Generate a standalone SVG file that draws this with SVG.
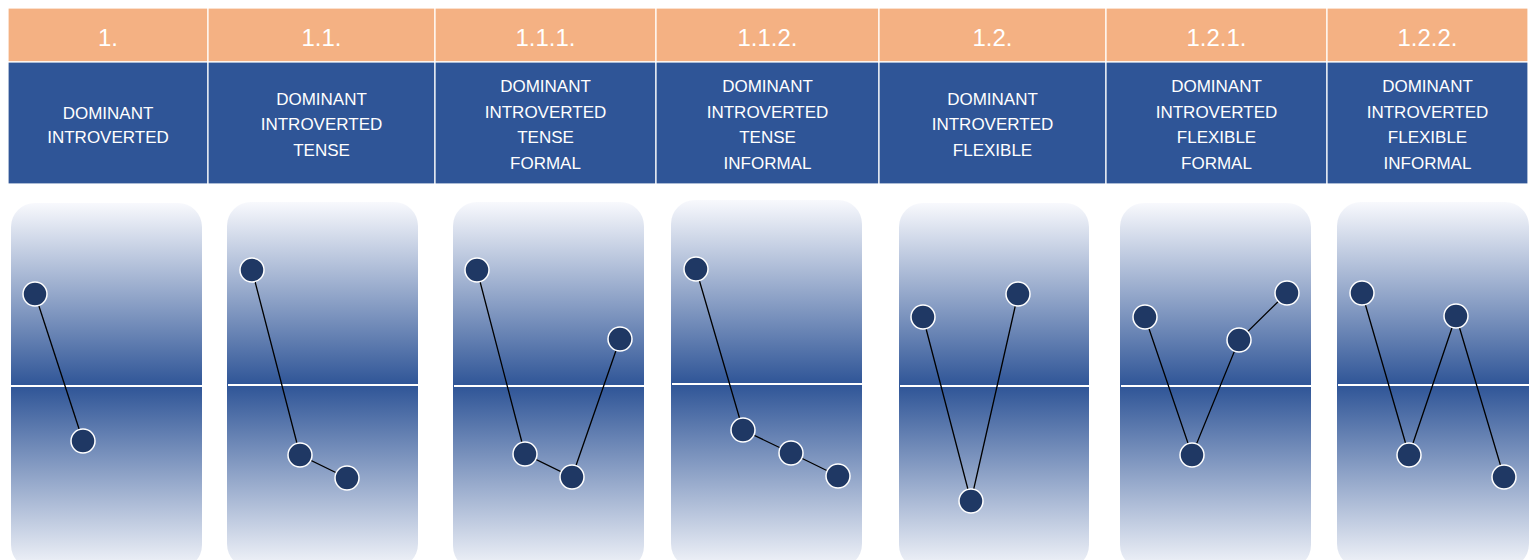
<svg xmlns="http://www.w3.org/2000/svg" width="1529" height="560" viewBox="0 0 1529 560">
<defs>
<linearGradient id="pg" x1="0" y1="0" x2="0" y2="1">
<stop offset="0" stop-color="#f8f9fd"/>
<stop offset="0.5" stop-color="#2F5597"/>
<stop offset="1" stop-color="#f3f5fa"/>
</linearGradient>
<style>
.num{fill:#F4B183;stroke:#ffffff;stroke-width:1.2}
.lab{fill:#2F5597;stroke:#ffffff;stroke-width:1.2}
.nt{font-family:"Liberation Sans",Arial,sans-serif;font-size:24px;fill:#ffffff;text-anchor:middle}
.lt{font-family:"Liberation Sans",Arial,sans-serif;font-size:17px;fill:#ffffff;text-anchor:middle}
.panel{fill:url(#pg)}
.mid{stroke:#ffffff;stroke-width:2}
.pt{fill:#1F3864;stroke:#ffffff;stroke-width:1.5}
.ln{fill:none;stroke:#000000;stroke-width:1.3}
</style>
</defs>
<rect width="1529" height="560" fill="#ffffff"/>

<g id="header">
<g id="col1">
<rect class="num" x="8" y="8" width="200" height="54"/>
<rect class="lab" x="8" y="62" width="200" height="122"/>
<text class="nt" x="108" y="46">1.</text>
<text class="lt" x="108" y="119">DOMINANT</text>
<text class="lt" x="108" y="143">INTROVERTED</text>
</g>
<g id="col2">
<rect class="num" x="208" y="8" width="227" height="54"/>
<rect class="lab" x="208" y="62" width="227" height="122"/>
<text class="nt" x="321.5" y="46">1.1.</text>
<text class="lt" x="321.5" y="105">DOMINANT</text>
<text class="lt" x="321.5" y="130">INTROVERTED</text>
<text class="lt" x="321.5" y="156">TENSE</text>
</g>
<g id="col3">
<rect class="num" x="435" y="8" width="221" height="54"/>
<rect class="lab" x="435" y="62" width="221" height="122"/>
<text class="nt" x="545.5" y="46">1.1.1.</text>
<text class="lt" x="545.5" y="92">DOMINANT</text>
<text class="lt" x="545.5" y="118">INTROVERTED</text>
<text class="lt" x="545.5" y="143">TENSE</text>
<text class="lt" x="545.5" y="169">FORMAL</text>
</g>
<g id="col4">
<rect class="num" x="656" y="8" width="223" height="54"/>
<rect class="lab" x="656" y="62" width="223" height="122"/>
<text class="nt" x="767.5" y="46">1.1.2.</text>
<text class="lt" x="767.5" y="92">DOMINANT</text>
<text class="lt" x="767.5" y="118">INTROVERTED</text>
<text class="lt" x="767.5" y="143">TENSE</text>
<text class="lt" x="767.5" y="169">INFORMAL</text>
</g>
<g id="col5">
<rect class="num" x="879" y="8" width="227" height="54"/>
<rect class="lab" x="879" y="62" width="227" height="122"/>
<text class="nt" x="992.5" y="46">1.2.</text>
<text class="lt" x="992.5" y="105">DOMINANT</text>
<text class="lt" x="992.5" y="130">INTROVERTED</text>
<text class="lt" x="992.5" y="156">FLEXIBLE</text>
</g>
<g id="col6">
<rect class="num" x="1106" y="8" width="221" height="54"/>
<rect class="lab" x="1106" y="62" width="221" height="122"/>
<text class="nt" x="1216.5" y="46">1.2.1.</text>
<text class="lt" x="1216.5" y="92">DOMINANT</text>
<text class="lt" x="1216.5" y="118">INTROVERTED</text>
<text class="lt" x="1216.5" y="143">FLEXIBLE</text>
<text class="lt" x="1216.5" y="169">FORMAL</text>
</g>
<g id="col7">
<rect class="num" x="1327" y="8" width="201" height="54"/>
<rect class="lab" x="1327" y="62" width="201" height="122"/>
<text class="nt" x="1427.5" y="46">1.2.2.</text>
<text class="lt" x="1427.5" y="92">DOMINANT</text>
<text class="lt" x="1427.5" y="118">INTROVERTED</text>
<text class="lt" x="1427.5" y="143">FLEXIBLE</text>
<text class="lt" x="1427.5" y="169">INFORMAL</text>
</g>
</g>

<g id="panels">
<rect class="panel" x="11" y="203" width="191" height="366" rx="24"/>
<rect class="panel" x="227" y="202" width="191" height="366" rx="24"/>
<rect class="panel" x="453" y="202" width="191" height="368" rx="24"/>
<rect class="panel" x="671" y="200" width="191" height="368" rx="24"/>
<rect class="panel" x="899" y="203" width="190" height="366" rx="24"/>
<rect class="panel" x="1120" y="203" width="191" height="366" rx="24"/>
<rect class="panel" x="1337" y="202" width="192" height="366" rx="24"/>
<line class="mid" x1="11" y1="386" x2="202" y2="386"/>
<line class="mid" x1="228" y1="385" x2="418" y2="385"/>
<line class="mid" x1="454" y1="386" x2="644" y2="386"/>
<line class="mid" x1="672" y1="384" x2="862" y2="384"/>
<line class="mid" x1="900" y1="386" x2="1089" y2="386"/>
<line class="mid" x1="1121" y1="386" x2="1311" y2="386"/>
<line class="mid" x1="1338" y1="385" x2="1529" y2="385"/>
</g>

<g id="connectors">
<polyline class="ln" points="35,294 83,441"/>
<polyline class="ln" points="252,270 300,455 347,478"/>
<polyline class="ln" points="477,270 525,454 572,477 620,339"/>
<polyline class="ln" points="696,269 743,430 791,453 838,476"/>
<polyline class="ln" points="923,317 971,501 1018,294"/>
<polyline class="ln" points="1145,317 1192,455 1239,340 1287,293"/>
<polyline class="ln" points="1362,293 1409,455 1456,316 1504,477"/>
</g>

<g id="nodes">
<g id="p1"><circle class="pt" cx="35" cy="294" r="12"/><circle class="pt" cx="83" cy="441" r="12"/></g>
<g id="p2"><circle class="pt" cx="252" cy="270" r="12"/><circle class="pt" cx="300" cy="455" r="12"/><circle class="pt" cx="347" cy="478" r="12"/></g>
<g id="p3"><circle class="pt" cx="477" cy="270" r="12"/><circle class="pt" cx="525" cy="454" r="12"/><circle class="pt" cx="572" cy="477" r="12"/><circle class="pt" cx="620" cy="339" r="12"/></g>
<g id="p4"><circle class="pt" cx="696" cy="269" r="12"/><circle class="pt" cx="743" cy="430" r="12"/><circle class="pt" cx="791" cy="453" r="12"/><circle class="pt" cx="838" cy="476" r="12"/></g>
<g id="p5"><circle class="pt" cx="923" cy="317" r="12"/><circle class="pt" cx="971" cy="501" r="12"/><circle class="pt" cx="1018" cy="294" r="12"/></g>
<g id="p6"><circle class="pt" cx="1145" cy="317" r="12"/><circle class="pt" cx="1192" cy="455" r="12"/><circle class="pt" cx="1239" cy="340" r="12"/><circle class="pt" cx="1287" cy="293" r="12"/></g>
<g id="p7"><circle class="pt" cx="1362" cy="293" r="12"/><circle class="pt" cx="1409" cy="455" r="12"/><circle class="pt" cx="1456" cy="316" r="12"/><circle class="pt" cx="1504" cy="477" r="12"/></g>
</g>
</svg>
